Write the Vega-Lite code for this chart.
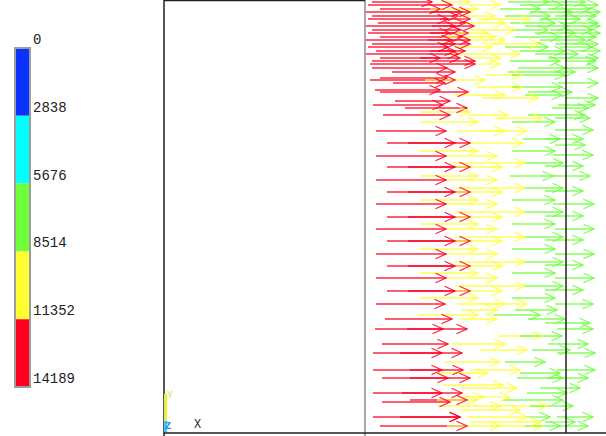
{
"$schema": "https://vega.github.io/schema/vega-lite/v6.json",
"width": 606, "height": 436,
"autosize": {"type": "none"},
"padding": 0,
"background": "white",
"config": {"view": {"stroke": null}},
"datasets": {
"bands": [
{"c":"B","lo":0,"hi":2838},{"c":"C","lo":2838,"hi":5676},{"c":"G","lo":5676,"hi":8514},{"c":"Y","lo":8514,"hi":11352},{"c":"R","lo":11352,"hi":14189}
],
"ticks": [{"v":0},{"v":2838},{"v":5676},{"v":8514},{"v":11352},{"v":14189}],
"blackframe": [
{"x":164,"x2":164,"y":0,"y2":436},{"x":164,"x2":365,"y":0.5,"y2":0.5},{"x":164,"x2":606,"y":433,"y2":433},{"x":566,"x2":566,"y":0,"y2":433}
],
"grayframe": [{"x":365,"x2":365,"y":0,"y2":436}],
"arrows": [
{"y":2,"a":372,"b":432,"c":"R"},{"y":2,"a":440,"b":470,"c":"Y"},{"y":2,"a":508,"b":548,"c":"G"},{"y":2,"a":545,"b":585,"c":"G"},
{"y":5,"a":368,"b":452,"c":"R"},{"y":5,"a":470,"b":500,"c":"Y"},{"y":5,"a":520,"b":562,"c":"G"},{"y":5,"a":560,"b":598,"c":"G"},
{"y":9,"a":380,"b":440,"c":"R"},{"y":9,"a":430,"b":478,"c":"Y"},{"y":9,"a":500,"b":540,"c":"G"},{"y":9,"a":548,"b":590,"c":"G"},
{"y":12,"a":366,"b":470,"c":"R"},{"y":12,"a":430,"b":462,"c":"R"},{"y":12,"a":530,"b":572,"c":"G"},{"y":12,"a":562,"b":600,"c":"G"},
{"y":16,"a":372,"b":458,"c":"R"},{"y":16,"a":455,"b":495,"c":"Y"},{"y":16,"a":505,"b":550,"c":"G"},{"y":16,"a":555,"b":596,"c":"G"},
{"y":19,"a":368,"b":448,"c":"R"},{"y":19,"a":440,"b":470,"c":"R"},{"y":19,"a":478,"b":530,"c":"Y"},{"y":19,"a":540,"b":580,"c":"G"},
{"y":23,"a":378,"b":465,"c":"R"},{"y":23,"a":462,"b":505,"c":"Y"},{"y":23,"a":510,"b":555,"c":"G"},{"y":23,"a":560,"b":598,"c":"G"},
{"y":26,"a":366,"b":474,"c":"R"},{"y":26,"a":432,"b":455,"c":"R"},{"y":26,"a":525,"b":568,"c":"G"},{"y":26,"a":565,"b":600,"c":"G"},
{"y":30,"a":372,"b":460,"c":"R"},{"y":30,"a":470,"b":515,"c":"Y"},{"y":30,"a":512,"b":548,"c":"G"},{"y":30,"a":550,"b":592,"c":"G"},
{"y":33,"a":368,"b":450,"c":"R"},{"y":33,"a":430,"b":468,"c":"R"},{"y":33,"a":455,"b":488,"c":"Y"},{"y":33,"a":535,"b":575,"c":"G"},{"y":33,"a":568,"b":600,"c":"G"},
{"y":37,"a":380,"b":462,"c":"R"},{"y":37,"a":440,"b":495,"c":"Y"},{"y":37,"a":515,"b":560,"c":"G"},{"y":37,"a":560,"b":596,"c":"G"},
{"y":40,"a":366,"b":470,"c":"R"},{"y":40,"a":428,"b":452,"c":"R"},{"y":40,"a":470,"b":505,"c":"Y"},{"y":40,"a":540,"b":585,"c":"G"},
{"y":44,"a":372,"b":455,"c":"R"},{"y":44,"a":440,"b":470,"c":"R"},{"y":44,"a":490,"b":540,"c":"Y"},{"y":44,"a":555,"b":598,"c":"G"},
{"y":47,"a":368,"b":448,"c":"R"},{"y":47,"a":455,"b":492,"c":"Y"},{"y":47,"a":505,"b":548,"c":"G"},{"y":47,"a":560,"b":592,"c":"G"},
{"y":51,"a":376,"b":465,"c":"R"},{"y":51,"a":430,"b":455,"c":"R"},{"y":51,"a":520,"b":565,"c":"G"},{"y":51,"a":570,"b":600,"c":"G"},
{"y":54,"a":366,"b":458,"c":"R"},{"y":54,"a":450,"b":520,"c":"Y"},{"y":54,"a":535,"b":578,"c":"G"},
{"y":58,"a":380,"b":440,"c":"R"},{"y":58,"a":420,"b":460,"c":"R"},{"y":58,"a":470,"b":500,"c":"Y"},{"y":58,"a":548,"b":598,"c":"G"},
{"y":61,"a":372,"b":475,"c":"R"},{"y":61,"a":510,"b":560,"c":"G"},{"y":61,"a":565,"b":596,"c":"G"},
{"y":64,"a":370,"b":475,"c":"R"},{"y":64,"a":478,"b":500,"c":"Y"},
{"y":68,"a":372,"b":447,"c":"R"},{"y":68,"a":518,"b":565,"c":"G"},{"y":68,"a":562,"b":598,"c":"G"},
{"y":72,"a":392,"b":455,"c":"R"},{"y":72,"a":508,"b":575,"c":"G"},
{"y":75,"a":485,"b":522,"c":"Y"},{"y":75,"a":512,"b":565,"c":"G"},
{"y":78,"a":380,"b":447,"c":"R"},
{"y":80,"a":370,"b":455,"c":"R"},{"y":80,"a":425,"b":485,"c":"Y"},
{"y":83,"a":393,"b":445,"c":"R"},{"y":83,"a":558,"b":598,"c":"G"},
{"y":87,"a":477,"b":522,"c":"Y"},{"y":87,"a":512,"b":562,"c":"G"},
{"y":90,"a":375,"b":440,"c":"R"},
{"y":92,"a":380,"b":468,"c":"R"},{"y":92,"a":528,"b":572,"c":"G"},
{"y":95,"a":455,"b":505,"c":"Y"},{"y":95,"a":525,"b":562,"c":"G"},
{"y":98,"a":482,"b":538,"c":"Y"},{"y":98,"a":565,"b":598,"c":"G"},
{"y":101,"a":395,"b":450,"c":"R"},
{"y":105,"a":373,"b":443,"c":"R"},{"y":105,"a":558,"b":595,"c":"G"},
{"y":108,"a":405,"b":467,"c":"R"},{"y":108,"a":552,"b":588,"c":"G"},
{"y":112,"a":420,"b":470,"c":"Y"},
{"y":115,"a":383,"b":450,"c":"R"},{"y":115,"a":468,"b":508,"c":"Y"},{"y":115,"a":528,"b":585,"c":"G"},
{"y":118,"a":495,"b":542,"c":"Y"},{"y":118,"a":555,"b":590,"c":"G"},
{"y":122,"a":420,"b":478,"c":"Y"},{"y":122,"a":512,"b":555,"c":"G"},
{"y":131,"a":376,"b":446,"c":"R"},{"y":131,"a":457,"b":505,"c":"Y"},{"y":131,"a":480,"b":527,"c":"Y"},{"y":130,"a":555,"b":593,"c":"G"},
{"y":139,"a":523,"b":560,"c":"G"},{"y":139,"a":545,"b":583,"c":"G"},
{"y":143,"a":387,"b":455,"c":"R"},{"y":143,"a":408,"b":470,"c":"R"},{"y":143,"a":470,"b":523,"c":"Y"},{"y":145,"a":555,"b":585,"c":"G"},
{"y":151,"a":420,"b":478,"c":"Y"},{"y":151,"a":512,"b":555,"c":"G"},
{"y":156,"a":376,"b":446,"c":"R"},{"y":156,"a":447,"b":497,"c":"Y"},{"y":155,"a":553,"b":593,"c":"G"},
{"y":163,"a":453,"b":525,"c":"Y"},{"y":163,"a":523,"b":563,"c":"G"},
{"y":167,"a":387,"b":455,"c":"R"},{"y":167,"a":408,"b":470,"c":"R"},{"y":167,"a":455,"b":502,"c":"Y"},{"y":166,"a":545,"b":583,"c":"G"},
{"y":176,"a":420,"b":478,"c":"Y"},{"y":176,"a":510,"b":553,"c":"G"},{"y":176,"a":553,"b":590,"c":"G"},
{"y":180,"a":376,"b":446,"c":"R"},{"y":180,"a":447,"b":497,"c":"Y"},
{"y":188,"a":455,"b":525,"c":"Y"},{"y":188,"a":523,"b":563,"c":"G"},
{"y":192,"a":387,"b":455,"c":"R"},{"y":192,"a":408,"b":470,"c":"R"},{"y":192,"a":455,"b":502,"c":"Y"},{"y":191,"a":545,"b":583,"c":"G"},
{"y":200,"a":420,"b":478,"c":"Y"},{"y":200,"a":512,"b":555,"c":"G"},
{"y":204,"a":376,"b":446,"c":"R"},{"y":204,"a":447,"b":497,"c":"Y"},{"y":204,"a":553,"b":594,"c":"G"},
{"y":212,"a":455,"b":525,"c":"Y"},{"y":212,"a":523,"b":563,"c":"G"},
{"y":217,"a":387,"b":455,"c":"R"},{"y":217,"a":408,"b":470,"c":"R"},{"y":217,"a":455,"b":502,"c":"Y"},{"y":216,"a":545,"b":583,"c":"G"},
{"y":224,"a":420,"b":478,"c":"Y"},{"y":224,"a":512,"b":555,"c":"G"},
{"y":229,"a":376,"b":446,"c":"R"},{"y":229,"a":447,"b":497,"c":"Y"},{"y":229,"a":555,"b":594,"c":"G"},
{"y":237,"a":455,"b":525,"c":"Y"},{"y":237,"a":523,"b":563,"c":"G"},
{"y":241,"a":387,"b":455,"c":"R"},{"y":241,"a":408,"b":470,"c":"R"},{"y":241,"a":455,"b":502,"c":"Y"},{"y":240,"a":545,"b":583,"c":"G"},
{"y":249,"a":420,"b":478,"c":"Y"},{"y":249,"a":512,"b":555,"c":"G"},
{"y":254,"a":376,"b":446,"c":"R"},{"y":254,"a":447,"b":497,"c":"Y"},{"y":254,"a":555,"b":594,"c":"G"},
{"y":262,"a":455,"b":525,"c":"Y"},{"y":262,"a":523,"b":563,"c":"G"},
{"y":266,"a":387,"b":455,"c":"R"},{"y":266,"a":408,"b":470,"c":"R"},{"y":266,"a":455,"b":502,"c":"Y"},{"y":265,"a":545,"b":583,"c":"G"},
{"y":273,"a":420,"b":478,"c":"Y"},{"y":273,"a":512,"b":555,"c":"G"},
{"y":278,"a":376,"b":446,"c":"R"},{"y":278,"a":447,"b":497,"c":"Y"},{"y":278,"a":555,"b":594,"c":"G"},
{"y":286,"a":455,"b":525,"c":"Y"},{"y":286,"a":523,"b":563,"c":"G"},
{"y":291,"a":387,"b":455,"c":"R"},{"y":291,"a":408,"b":470,"c":"R"},{"y":291,"a":455,"b":502,"c":"Y"},{"y":290,"a":545,"b":583,"c":"G"},
{"y":298,"a":420,"b":478,"c":"Y"},{"y":298,"a":512,"b":555,"c":"G"},
{"y":304,"a":376,"b":445,"c":"R"},{"y":304,"a":457,"b":505,"c":"Y"},{"y":304,"a":480,"b":527,"c":"Y"},{"y":304,"a":555,"b":593,"c":"G"},
{"y":310,"a":462,"b":497,"c":"Y"},{"y":310,"a":515,"b":557,"c":"G"},
{"y":315,"a":418,"b":478,"c":"Y"},{"y":315,"a":493,"b":540,"c":"G"},
{"y":319,"a":385,"b":452,"c":"R"},{"y":319,"a":460,"b":497,"c":"Y"},{"y":319,"a":528,"b":565,"c":"G"},
{"y":323,"a":545,"b":590,"c":"G"},
{"y":329,"a":375,"b":443,"c":"R"},{"y":329,"a":407,"b":467,"c":"R"},{"y":329,"a":557,"b":593,"c":"G"},
{"y":336,"a":498,"b":542,"c":"Y"},{"y":336,"a":520,"b":562,"c":"G"},
{"y":344,"a":382,"b":448,"c":"R"},{"y":344,"a":452,"b":505,"c":"Y"},{"y":344,"a":548,"b":588,"c":"G"},
{"y":350,"a":480,"b":527,"c":"Y"},{"y":350,"a":532,"b":570,"c":"G"},
{"y":353,"a":373,"b":442,"c":"R"},{"y":353,"a":400,"b":462,"c":"R"},{"y":353,"a":557,"b":595,"c":"G"},
{"y":362,"a":445,"b":500,"c":"Y"},{"y":362,"a":505,"b":545,"c":"G"},
{"y":370,"a":373,"b":442,"c":"R"},{"y":370,"a":410,"b":463,"c":"R"},{"y":370,"a":470,"b":520,"c":"Y"},{"y":370,"a":557,"b":595,"c":"G"},
{"y":373,"a":438,"b":488,"c":"Y"},{"y":373,"a":520,"b":560,"c":"G"},
{"y":378,"a":382,"b":448,"c":"R"},{"y":378,"a":410,"b":470,"c":"R"},{"y":378,"a":517,"b":563,"c":"G"},{"y":378,"a":547,"b":588,"c":"G"},
{"y":385,"a":443,"b":503,"c":"Y"},
{"y":388,"a":460,"b":517,"c":"Y"},{"y":388,"a":540,"b":580,"c":"G"},
{"y":393,"a":373,"b":442,"c":"R"},{"y":393,"a":402,"b":462,"c":"R"},{"y":393,"a":527,"b":567,"c":"G"},
{"y":397,"a":457,"b":483,"c":"Y"},{"y":397,"a":480,"b":510,"c":"Y"},
{"y":400,"a":410,"b":467,"c":"R"},{"y":400,"a":437,"b":477,"c":"Y"},{"y":400,"a":503,"b":563,"c":"G"},
{"y":402,"a":382,"b":450,"c":"R"},
{"y":406,"a":437,"b":500,"c":"Y"},{"y":406,"a":490,"b":547,"c":"Y"},{"y":406,"a":530,"b":573,"c":"G"},
{"y":410,"a":460,"b":520,"c":"Y"},
{"y":417,"a":373,"b":460,"c":"R"},{"y":417,"a":400,"b":460,"c":"R"},{"y":417,"a":467,"b":527,"c":"Y"},{"y":417,"a":527,"b":550,"c":"G"},{"y":417,"a":557,"b":593,"c":"G"},
{"y":422,"a":470,"b":540,"c":"Y"},{"y":422,"a":545,"b":575,"c":"G"},
{"y":426,"a":380,"b":467,"c":"R"},{"y":426,"a":447,"b":500,"c":"Y"},{"y":426,"a":490,"b":543,"c":"Y"},{"y":426,"a":525,"b":560,"c":"G"},{"y":426,"a":560,"b":588,"c":"G"}
]
},
"layer": [
{
"layer": [
{"data": {"name": "bands"}, "mark": {"type": "rect"},
 "encoding": {
  "x": {"datum": 15, "type": "quantitative", "scale": {"domain": [0, 606], "nice": false, "zero": false}, "axis": null},
  "x2": {"datum": 30},
  "y": {"field": "lo", "type": "quantitative", "scale": {"domain": [-2009, 16240], "reverse": true, "nice": false, "zero": false}, "axis": null},
  "y2": {"field": "hi"},
  "color": {"field": "c", "type": "nominal", "scale": {"domain": ["B","C","G","Y","R"], "range": ["#0a32ff","#00ffff","#6cff3a","#ffff33","#ff0022"]}, "legend": null}
 }},
{"data": {"values": [{"lo": 0, "hi": 14189}]}, "mark": {"type": "rect", "fill": null, "filled": false, "stroke": "#9c9c9c", "strokeWidth": 2},
 "encoding": {
  "x": {"datum": 15, "type": "quantitative", "scale": {"domain": [0, 606], "nice": false, "zero": false}, "axis": null},
  "x2": {"datum": 30},
  "y": {"field": "lo", "type": "quantitative", "axis": null},
  "y2": {"field": "hi"}
 }},
{"data": {"name": "ticks"}, "mark": {"type": "text", "align": "left", "baseline": "alphabetic", "dy": -4, "font": "Liberation Mono", "fontSize": 14, "color": "#222222"},
 "encoding": {
  "x": {"datum": 33, "type": "quantitative", "scale": {"domain": [0, 606], "nice": false, "zero": false}, "axis": null},
  "y": {"field": "v", "type": "quantitative", "axis": null},
  "text": {"field": "v", "type": "quantitative", "format": "d"}
 }}
]
},
{
"layer": [
{"data": {"name": "grayframe"}, "mark": {"type": "rule", "color": "#8a8a8a", "strokeWidth": 1.5},
 "encoding": {
  "x": {"field": "x", "type": "quantitative", "scale": {"domain": [0, 606], "nice": false, "zero": false}, "axis": null},
  "x2": {"field": "x2"},
  "y": {"field": "y", "type": "quantitative", "scale": {"domain": [0, 436], "reverse": true, "nice": false, "zero": false}, "axis": null},
  "y2": {"field": "y2"}
 }},
{"data": {"name": "arrows"}, "mark": {"type": "rule", "strokeWidth": 1.3, "opacity": 0.85},
 "encoding": {
  "x": {"field": "a", "type": "quantitative", "scale": {"domain": [0, 606], "nice": false, "zero": false}, "axis": null},
  "x2": {"field": "b"},
  "y": {"field": "y", "type": "quantitative", "axis": null},
  "color": {"field": "c", "type": "nominal", "legend": null}
 }},
{"data": {"name": "arrows"}, "mark": {"type": "point", "filled": false, "shape": "M-1,-0.45L0,0L-1,0.45", "size": 441, "strokeWidth": 1.3, "opacity": 0.85},
 "encoding": {
  "x": {"field": "b", "type": "quantitative", "scale": {"domain": [0, 606], "nice": false, "zero": false}, "axis": null},
  "y": {"field": "y", "type": "quantitative", "axis": null},
  "color": {"field": "c", "type": "nominal", "legend": null}
 }},
{"data": {"name": "blackframe"}, "mark": {"type": "rule", "color": "#202020", "strokeWidth": 1.5},
 "encoding": {
  "x": {"field": "x", "type": "quantitative", "scale": {"domain": [0, 606], "nice": false, "zero": false}, "axis": null},
  "x2": {"field": "x2"},
  "y": {"field": "y", "type": "quantitative", "axis": null},
  "y2": {"field": "y2"}
 }},
{"data": {"values": [{"x": 165.5, "y": 394, "y2": 432}]}, "mark": {"type": "rule", "color": "#e6f03c", "strokeWidth": 3},
 "encoding": {
  "x": {"field": "x", "type": "quantitative", "scale": {"domain": [0, 606], "nice": false, "zero": false}, "axis": null},
  "y": {"field": "y", "type": "quantitative", "axis": null},
  "y2": {"field": "y2"}
 }},
{"data": {"values": [{"x": 165.5, "y": 421, "y2": 432}]}, "mark": {"type": "rule", "color": "#3cc8ff", "strokeWidth": 3},
 "encoding": {
  "x": {"field": "x", "type": "quantitative", "scale": {"domain": [0, 606], "nice": false, "zero": false}, "axis": null},
  "y": {"field": "y", "type": "quantitative", "axis": null},
  "y2": {"field": "y2"}
 }},
{"data": {"values": [{"x": 167, "y": 398, "t": "Y"}]}, "mark": {"type": "text", "align": "left", "baseline": "alphabetic", "font": "Liberation Mono", "fontSize": 10, "color": "#c8e640"},
 "encoding": {
  "x": {"field": "x", "type": "quantitative", "scale": {"domain": [0, 606], "nice": false, "zero": false}, "axis": null},
  "y": {"field": "y", "type": "quantitative", "axis": null},
  "text": {"field": "t"}
 }},
{"data": {"values": [{"x": 165, "y": 429, "t": "Z"}]}, "mark": {"type": "text", "align": "left", "baseline": "alphabetic", "font": "Liberation Mono", "fontSize": 10, "fontWeight": "bold", "color": "#2090e0"},
 "encoding": {
  "x": {"field": "x", "type": "quantitative", "scale": {"domain": [0, 606], "nice": false, "zero": false}, "axis": null},
  "y": {"field": "y", "type": "quantitative", "axis": null},
  "text": {"field": "t"}
 }},
{"data": {"values": [{"x": 194, "y": 428, "t": "X"}]}, "mark": {"type": "text", "align": "left", "baseline": "alphabetic", "font": "Liberation Mono", "fontSize": 12, "color": "#333333"},
 "encoding": {
  "x": {"field": "x", "type": "quantitative", "scale": {"domain": [0, 606], "nice": false, "zero": false}, "axis": null},
  "y": {"field": "y", "type": "quantitative", "axis": null},
  "text": {"field": "t"}
 }}
]
}
],
"resolve": {"scale": {"y": "independent"}}
}
